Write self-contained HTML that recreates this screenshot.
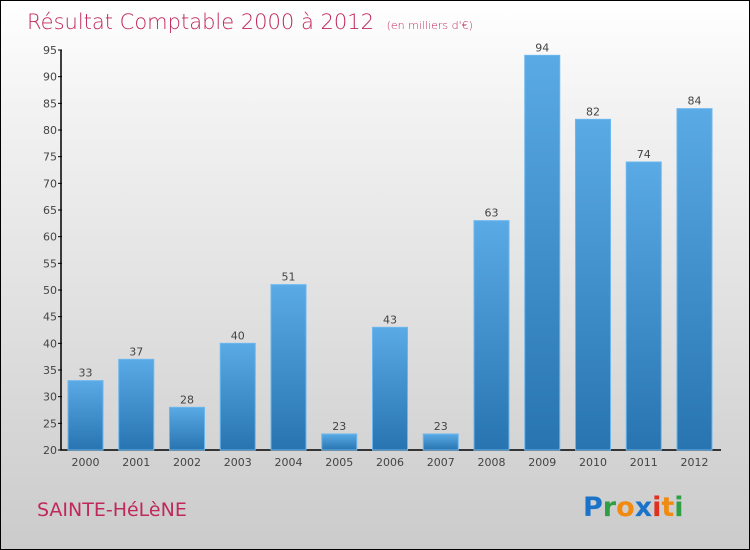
<!DOCTYPE html>
<html><head><meta charset="utf-8"><style>
body{margin:0}
#c{position:relative;width:748px;height:548px;border:1px solid #000;background:linear-gradient(#fff,#f2f2f2 20%,#cbcbcb);font-family:"DejaVu Sans","Liberation Sans",sans-serif;overflow:hidden}
</style></head><body>
<div id="c">
<svg width="748" height="548" style="position:absolute;left:0;top:0" id="svg">
<defs><linearGradient id="g" x1="0" y1="0" x2="0" y2="1"><stop offset="0" stop-color="#5aaae6"/><stop offset="1" stop-color="#2774b0"/></linearGradient></defs>
<text x="26" y="28" font-size="21" fill="#c0285a" font-weight="200">Résultat Comptable 2000 à 2012 <tspan font-size="11" dx="6">(en milliers d'€)</tspan></text>
<text x="36" y="515" font-size="19" fill="#c0285a">SAINTE-HéLèNE</text>
<text x="582" y="515" font-size="27" font-weight="bold"><tspan fill="#1a73c8">P</tspan><tspan fill="#2ea043">r</tspan><tspan fill="#f08a10">o</tspan><tspan fill="#1a73c8">x</tspan><tspan fill="#e03020">i</tspan><tspan fill="#f08a10">t</tspan><tspan fill="#2ea043">i</tspan></text>
<g id="plot"></g>
</svg>
</div>
<script>
const categories=["2000","2001","2002","2003","2004","2005","2006","2007","2008","2009","2010","2011","2012"];
const values=[33,37,28,40,51,23,43,23,63,94,82,74,84];
const yTicks=[20,25,30,35,40,45,50,55,60,65,70,75,80,85,90,95];
const NS="http://www.w3.org/2000/svg";
const g=document.getElementById('plot');
const yMin=20,yMax=95,y0=449,y1=49;
const y=v=>y0-(v-yMin)/(yMax-yMin)*(y0-y1);
const x=i=>84.5+i*50.75;
function el(t,a){const e=document.createElementNS(NS,t);for(const k in a)e.setAttribute(k,a[k]);g.appendChild(e);return e;}
let ax=el('path',{d:`M60 ${y1} V${y0} H720`,stroke:'#000','stroke-width':1.5,fill:'none'});


yTicks.forEach(t=>{
 const l=el('line',{x1:57,x2:61,y1:y(t),y2:y(t),stroke:'#000'});
 
 
 const tx=el('text',{x:56,y:y(t)+4,'text-anchor':'end','font-size':11,fill:'#444'});
 tx.textContent=t;
 
 
});
categories.forEach((c,i)=>{
 const cx=x(i),v=values[i];
 const r=el('rect',{x:cx-17.5,y:y(v),width:35,height:y0-y(v),fill:'url(#g)',stroke:'#6bb6ee','stroke-width':1});
 
 
 const vl=el('text',{x:cx,y:y(v)-4,'text-anchor':'middle','font-size':11,fill:'#444'});
 vl.textContent=v;
 
 
 const xl=el('text',{x:cx,y:465,'text-anchor':'middle','font-size':11,fill:'#444'});
 xl.textContent=c;
 
 
});
</script>
</body></html>
